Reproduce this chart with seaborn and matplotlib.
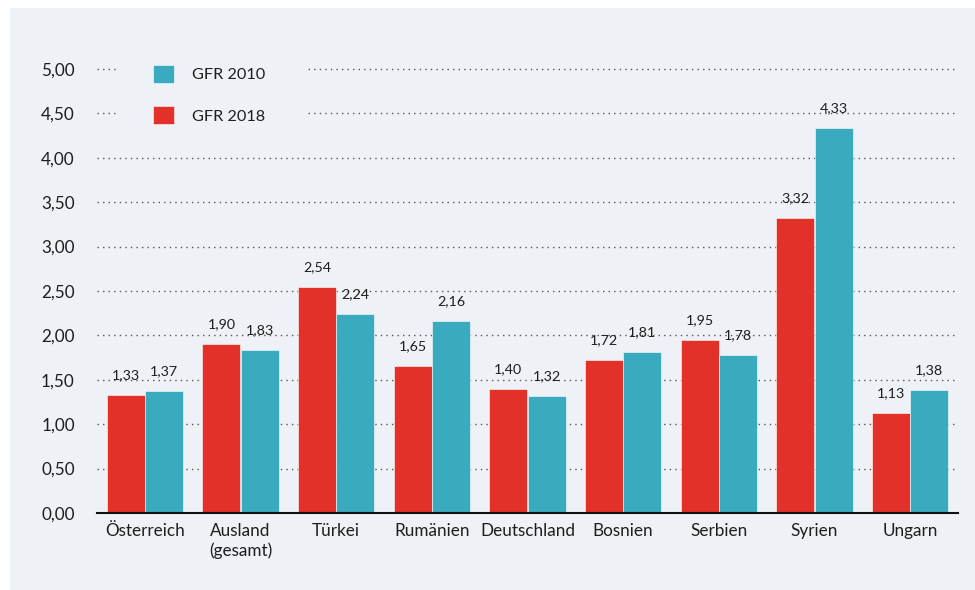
import matplotlib
matplotlib.use("Agg")
import matplotlib.pyplot as plt
import matplotlib.patches as mpatches
import seaborn as sns
import pandas as pd

categories = ["Österreich", "Ausland\n(gesamt)", "Türkei", "Rumänien", "Deutschland",
              "Bosnien", "Serbien", "Syrien", "Ungarn"]
gfr_2018 = [1.33, 1.90, 2.54, 1.65, 1.40, 1.72, 1.95, 3.32, 1.13]
gfr_2010 = [1.37, 1.83, 2.24, 2.16, 1.32, 1.81, 1.78, 4.33, 1.38]
series_names = ["GFR 2018", "GFR 2010"]
yticks = [0, 0.5, 1.0, 1.5, 2.0, 2.5, 3.0, 3.5, 4.0, 4.5, 5.0]

RED = "#E3312A"
TEAL = "#3AAABF"
PANEL = "#EEF2F6"
TEXT = "#1E1E1E"

df = pd.DataFrame({
    "Land": categories * 2,
    "Serie": [series_names[0]] * len(categories) + [series_names[1]] * len(categories),
    "GFR": gfr_2018 + gfr_2010,
})

sns.set_theme(style="white")
plt.rcParams["font.family"] = ["Lato", "DejaVu Sans"]

fig = plt.figure(figsize=(9.75, 5.9), dpi=100, facecolor="white")
fig.patches.append(mpatches.Rectangle((10 / 975, 0), 965 / 975, 582 / 590,
                                      transform=fig.transFigure, facecolor=PANEL,
                                      edgecolor="none", zorder=-10))
ax = fig.add_axes([97 / 975, 1 - 513 / 590, 861 / 975, (513 - 24.6) / 590])
ax.set_facecolor("none")

sns.barplot(data=df, x="Land", y="GFR", hue="Serie", hue_order=series_names,
            palette=[RED, TEAL], width=0.8, ax=ax, saturation=1,
            edgecolor="white", linewidth=0.4, zorder=2)

ax.set_xlim(-0.5, len(categories) - 0.5)
ax.set_ylim(0, 5.5)
ax.set_yticks(yticks)
ax.set_yticklabels([f"{v:.2f}".replace(".", ",") for v in yticks])
ax.set_xlabel("")
ax.set_ylabel("")

ax.set_axisbelow(True)
ax.yaxis.grid(True, color="#555555", linestyle=(0, (1, 3)), linewidth=1.0)
ax.xaxis.grid(False)
for s in ["top", "right", "left"]:
    ax.spines[s].set_visible(False)
ax.spines["bottom"].set_color("#111111")
ax.spines["bottom"].set_linewidth(1.5)
ax.spines["bottom"].set_zorder(3)

ax.tick_params(axis="y", length=0, pad=16, labelsize=12.3, labelcolor=TEXT)
ax.tick_params(axis="x", length=0, pad=7.5, labelsize=12.3, labelcolor=TEXT)

# value labels
for cont in ax.containers:
    for bar in cont:
        h = bar.get_height()
        ax.annotate(f"{h:.2f}".replace(".", ","),
                    (bar.get_x() + bar.get_width() / 2, h),
                    xytext=(0, 10), textcoords="offset points",
                    ha="center", va="bottom", fontsize=10.3, color=TEXT)

# background block behind legend (hides gridlines)
ax.add_patch(mpatches.Rectangle((-0.30, 4.2), 2.0, 1.1, facecolor=PANEL,
                                edgecolor="none", zorder=1))

handles, labels = ax.get_legend_handles_labels()
order = [1, 0]
leg = ax.legend([handles[i] for i in order], [labels[i] for i in order],
                loc="upper left", bbox_to_anchor=(153 / 975, 1 - 65 / 590),
                bbox_transform=fig.transFigure, frameon=False, borderpad=0,
                handlelength=1.3, handleheight=1.3, handletextpad=1.1,
                labelspacing=1.45, fontsize=11.7, borderaxespad=0)
for t in leg.get_texts():
    t.set_color(TEXT)

fig.savefig("out.png", dpi=100, facecolor="white")
